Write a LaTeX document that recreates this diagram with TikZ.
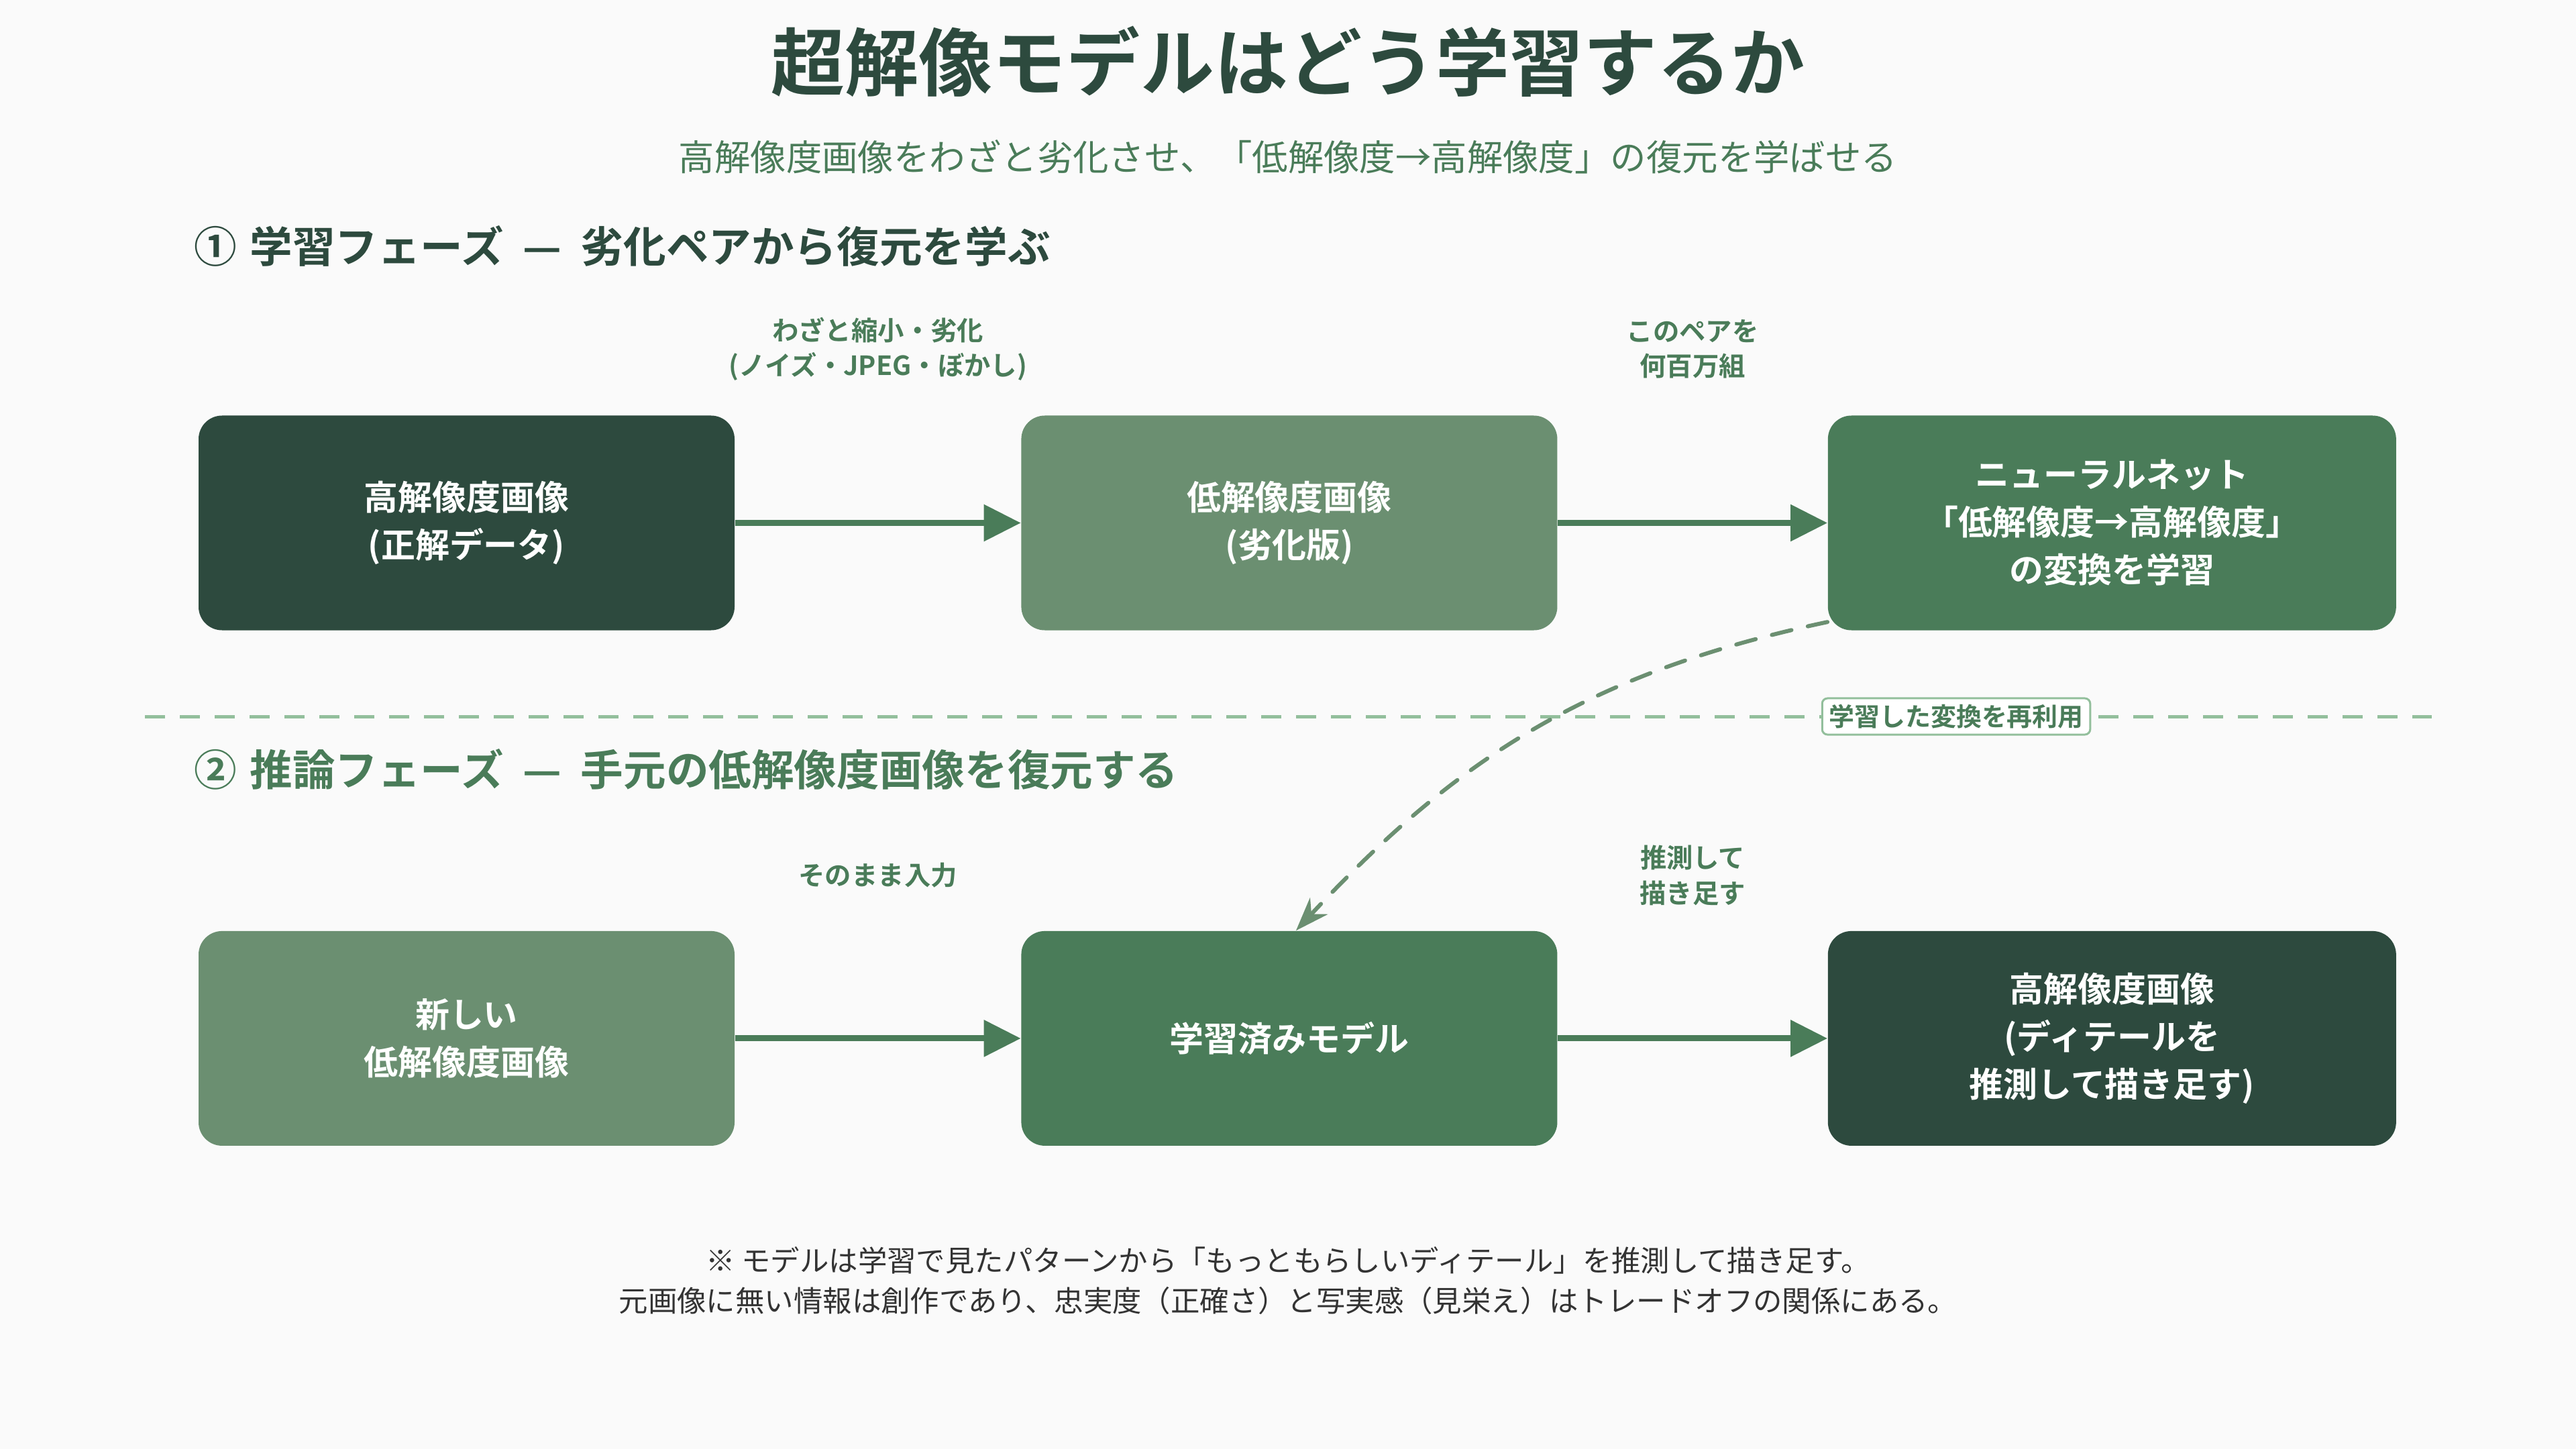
\documentclass[tikz,border=0pt]{standalone}
\usepackage{fontspec}
\setmainfont{Noto Sans CJK JP}[BoldFont={Noto Sans CJK JP Bold}]
\usetikzlibrary{positioning,arrows.meta}
\definecolor{dkg}{HTML}{2D4A3E}
\definecolor{mdg}{HTML}{4A7C59}
\definecolor{sgg}{HTML}{6B8F71}
\definecolor{ltg}{HTML}{93BF9C}
\definecolor{bgc}{HTML}{FAFAFA}
\definecolor{ftc}{HTML}{333333}
\newcommand{\hdash}{\hspace{0.45em}—\hspace{0.45em}}

\begin{document}
\begin{tikzpicture}[
  node distance=4.47cm and 4.26cm,
  blk/.style={rectangle, rounded corners=0.35cm, minimum width=7.99cm, minimum height=3.2cm,
              inner sep=0pt, align=center, text=white,
              font=\fontsize{14.5pt}{20.2pt}\selectfont\bfseries},
  dkn/.style={blk, fill=dkg},
  sgn/.style={blk, fill=sgg},
  mdn/.style={blk, fill=mdg},
  wbox/.style={minimum width=8.47cm},
  arr/.style={-{Triangle[length=0.55cm, width=0.53cm]}, line width=0.09cm, draw=mdg},
  elbl/.style={midway, text=mdg, align=center, font=\fontsize{11.2pt}{14.8pt}\selectfont\bfseries},
  hdr/.style={anchor=west, inner sep=0pt, font=\fontsize{18.1pt}{20pt}\selectfont\bfseries},
  sepl/.style={draw=ltg, line width=0.05cm, dash pattern=on 0.3cm off 0.22cm},
  rlbl/.style={draw=ltg, line width=0.03cm, fill=white, rounded corners=0.08cm,
               inner xsep=0.1cm, inner ysep=0.09cm, text=mdg,
               font=\fontsize{10.8pt}{13pt}\selectfont\bfseries},
  reuse/.style={draw=sgg, line width=0.06cm, line cap=round, dash pattern=on 0.3cm off 0.25cm,
                -{Stealth[length=0.5cm, width=0.36cm]}},
]
 \fill[bgc] (0,0) rectangle (38.4,-21.6);
 \useasboundingbox (0,0) rectangle (38.4,-21.6);

 % Title
 \node[text=dkg, font=\fontsize{31.3pt}{36pt}\selectfont\bfseries] (ttl) at (19.2,-0.92)
   {超解像モデルはどう学習するか};
 \node[text=mdg, font=\fontsize{15.2pt}{18pt}\selectfont] (sub) at (19.2,-2.34)
   {高解像度画像をわざと劣化させ、「低解像度→高解像度」の復元を学ばせる};

 % Training phase
 \node[hdr, text=dkg] (h1) at (2.89,-3.67) {①\hspace{0.3em}学習フェーズ\hdash 劣化ペアから復元を学ぶ};
 \node[dkn] (hr) at (6.955,-7.795) {高解像度画像\\(正解データ)};
 \node[sgn, right=of hr] (lr) {低解像度画像\\(劣化版)};
 \node[mdn, wbox, right=4.02cm of lr] (nn) {ニューラルネット\\「低解像度→高解像度」\\の変換を学習};

 \draw[arr] (hr) -- (lr) node[elbl, yshift=2.59cm] {わざと縮小・劣化\\(ノイズ・JPEG・ぼかし)};
 \draw[arr] (lr) -- (nn) node[elbl, yshift=2.59cm] {このペアを\\何百万組};

 % Separator
 \coordinate (sepL) at (2.16,-10.68);
 \coordinate (sepR) at (36.25,-10.68);
 \draw[sepl] (sepL) -- (sepR);
 \node[rlbl] (rl) at (29.16,-10.68) {学習した変換を再利用};

 % Inference phase
 \node[hdr, text=mdg] (h2) at (2.89,-11.47) {②\hspace{0.3em}推論フェーズ\hdash 手元の低解像度画像を復元する};
 \node[sgn, below=of hr] (newlr) {新しい\\低解像度画像};
 \node[mdn, right=of newlr] (tm) {学習済みモデル};
 \node[dkn, wbox, right=4.02cm of tm] (sr) {高解像度画像\\(ディテールを\\推測して描き足す)};

 \draw[arr] (newlr) -- (tm) node[elbl, yshift=2.43cm] {そのまま入力};
 \draw[arr] (tm) -- (sr) node[elbl, yshift=2.43cm] {推測して\\描き足す};

 \draw[reuse] ([yshift=0.13cm]nn.south west) to[out=192, in=47] ([xshift=0.1cm]tm.north);

 % Note
 \node[text=ftc, align=center, font=\fontsize{12.35pt}{17pt}\selectfont] (note) at (19.2,-19.09)
   {※ モデルは学習で見たパターンから「もっともらしいディテール」を推測して描き足す。\\
    元画像に無い情報は創作であり、忠実度（正確さ）と写実感（見栄え）はトレードオフの関係にある。};
\end{tikzpicture}
\end{document}
